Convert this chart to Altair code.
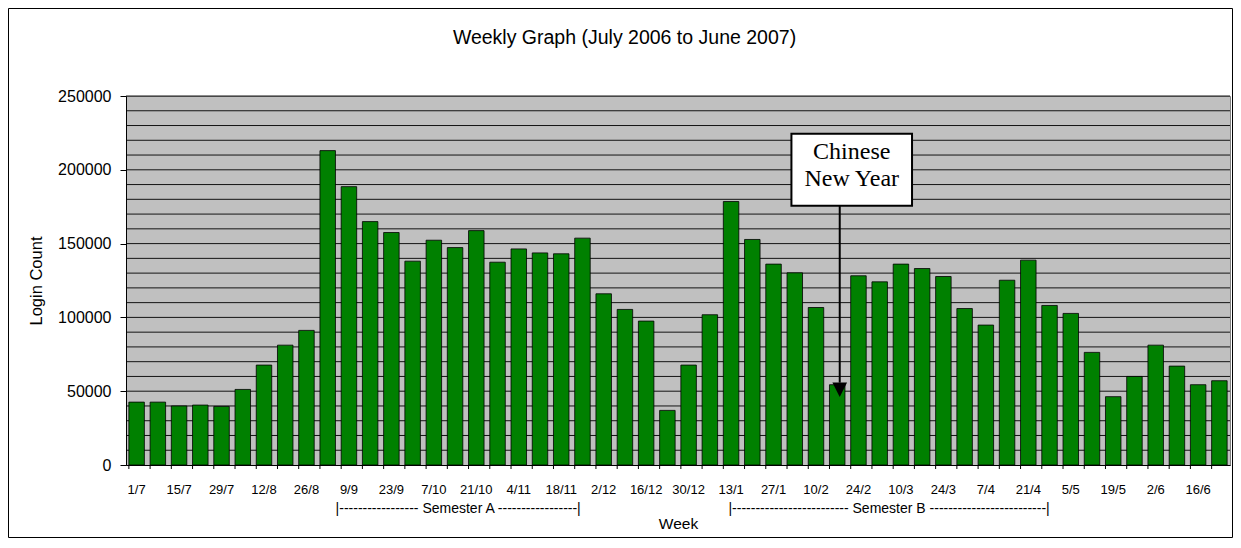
import json
import altair as alt
import pandas as pd

# ---------------- data ----------------
weeks = ["1/7", "8/7", "15/7", "22/7", "29/7", "5/8", "12/8", "19/8", "26/8", "2/9",
         "9/9", "16/9", "23/9", "30/9", "7/10", "14/10", "21/10", "28/10", "4/11", "11/11",
         "18/11", "25/11", "2/12", "9/12", "16/12", "23/12", "30/12", "6/1", "13/1", "20/1",
         "27/1", "3/2", "10/2", "17/2", "24/2", "3/3", "10/3", "17/3", "24/3", "31/3",
         "7/4", "14/4", "21/4", "28/4", "5/5", "12/5", "19/5", "26/5", "2/6", "9/6",
         "16/6", "23/6"]
logins = [42600, 42600, 40000, 40600, 39700, 51200, 67700, 81200, 91200, 213000,
          188600, 164900, 157500, 138100, 152300, 147300, 158800, 137400, 146400, 143700,
          143100, 153700, 116000, 105400, 97500, 37000, 67700, 101800, 178500, 152800,
          136100, 130200, 106700, 54400, 128200, 124100, 136100, 133100, 127700, 106000,
          94800, 125200, 138800, 108100, 102700, 76300, 46300, 60000, 81200, 67000,
          54400, 57100]
tick_labels = ["1/7", "15/7", "29/7", "12/8", "26/8", "9/9", "23/9", "7/10", "21/10",
               "4/11", "18/11", "2/12", "16/12", "30/12", "13/1", "27/1", "10/2", "24/2",
               "10/3", "24/3", "7/4", "21/4", "5/5", "19/5", "2/6", "16/6"]
y_labels = [0, 50000, 100000, 150000, 200000, 250000]
grid_values = [10000, 20000, 30000, 40000, 50000, 60000, 70000, 80000, 90000, 100000,
               110000, 120000, 130000, 140000, 150000, 160000, 170000, 180000, 190000,
               200000, 210000, 220000, 230000, 240000, 250000]

chart_title = ["Weekly Graph (July 2006 to June 2007)"]

# annotation (Chinese New Year)
cny_week = ["17/2"]
cny_text = ["Chinese\nNew Year"]
cny_box_center = [200000]
cny_text_first_line = [212200]
cny_line_top = [175500]
cny_line_bottom = [55800]
cny_head = [51000]

# semester labels
semester_anchor = ["14/10", "3/3"]
semester_text = ["|" + "-" * 17 + " Semester A " + "-" * 17 + "|",
                 "|" + "-" * 25 + " Semester B " + "-" * 25 + "|"]

W, H = 1104, 369
FONT = "Liberation Sans"

df = pd.DataFrame({"week": weeks, "logins": logins})
grid_df = pd.DataFrame({"g": grid_values})
cny_df = pd.DataFrame({"week": cny_week, "text": cny_text, "box": cny_box_center,
                       "tc": cny_text_first_line, "lt": cny_line_top,
                       "lb": cny_line_bottom, "head": cny_head})
semA = pd.DataFrame({"week": [semester_anchor[0]], "text": [semester_text[0]]})
semB = pd.DataFrame({"week": [semester_anchor[1]], "text": [semester_text[1]]})
title_df = pd.DataFrame({"t": chart_title})

xscale = alt.Scale(domain=weeks, paddingInner=0.27, paddingOuter=0.135)
yscale = alt.Scale(domain=[0, 250000], nice=False)

label_expr = ("indexof(" + json.dumps(tick_labels).replace('"', "'") +
              ", datum.label) >= 0 ? datum.label : ''")

x_axis = alt.Axis(title="Week", labelExpr=label_expr, labelAngle=0,
                  labelOverlap=False, ticks=False, labelPadding=18,
                  labelFont=FONT, labelFontSize=13, labelColor="black",
                  domainColor="black", titleFont=FONT, titleFontSize=15.5,
                  titleFontWeight="normal", titleColor="black",
                  titleY=63.5, titleBaseline="alphabetic")
y_axis = alt.Axis(title="Login Count", values=y_labels, grid=False, format="d",
                  tickColor="black", tickSize=6, labelPadding=9,
                  labelFont=FONT, labelFontSize=16, labelColor="black",
                  domainColor="black", titleFont=FONT, titleFontSize=16.5,
                  titleFontWeight="normal", titleColor="black",
                  titleX=-85, titleBaseline="alphabetic")


def X(field="week:N", **kw):
    return alt.X(field, scale=xscale, sort=weeks, axis=x_axis, **kw)


def Y(field):
    return alt.Y(field, scale=yscale, axis=y_axis)


grid = alt.Chart(grid_df).mark_rule(color="black", strokeWidth=1, opacity=0.9).encode(
    y=Y("g:Q")
)

bars = alt.Chart(df).mark_bar(color="#008000", stroke="black", strokeWidth=1,
                              strokeOpacity=0.8).encode(
    x=X(),
    y=Y("logins:Q"),
)

xticks = alt.Chart(df).mark_rule(color="black", strokeWidth=1).encode(
    x=X(bandPosition=0),
    y=alt.value(H),
    y2=alt.value(H + 4),
)

box = alt.Chart(cny_df).mark_point(
    shape="M-1,-0.597L1,-0.597L1,0.597L-1,0.597Z", size=14544, filled=True,
    fill="white", stroke="black", strokeWidth=2, opacity=1, xOffset=14.5
).encode(
    x=X(),
    y=Y("box:Q"),
)

box_text = alt.Chart(cny_df).mark_text(
    font="Liberation Serif", fontSize=24, lineHeight=27, lineBreak="\n",
    baseline="middle", align="center", color="black", xOffset=14.5
).encode(
    x=X(),
    y=Y("tc:Q"),
    text="text:N",
)

arrow_line = alt.Chart(cny_df).mark_rule(color="black", strokeWidth=2, xOffset=2.5).encode(
    x=X(),
    y=Y("lt:Q"),
    y2="lb:Q",
)

arrow_head = alt.Chart(cny_df).mark_point(
    shape="M-1,-1L1,-1L0,1Z", size=215, filled=True, color="black", opacity=1,
    xOffset=2.5
).encode(
    x=X(),
    y=Y("head:Q"),
)

semA_text = alt.Chart(semA).mark_text(
    font=FONT, fontSize=14, baseline="middle", align="center", color="black",
    xOffset=3.1
).encode(
    x=X(),
    y=alt.value(H + 44),
    text="text:N",
)

semB_text = alt.Chart(semB).mark_text(
    font=FONT, fontSize=14, baseline="middle", align="center", color="black",
    xOffset=9.4
).encode(
    x=X(),
    y=alt.value(H + 44),
    text="text:N",
)

title_text = alt.Chart(title_df).mark_text(
    font=FONT, fontSize=19.5, baseline="alphabetic", align="center", color="black"
).encode(
    x=alt.value(498.5),
    y=alt.value(-52),
    text="t:N",
)

frame = alt.Chart(title_df).mark_rect(fill="transparent", stroke="black", strokeWidth=1).encode(
    x=alt.value(-117.5), x2=alt.value(W + 2.5),
    y=alt.value(-87.5), y2=alt.value(H + 72.5),
)

chart = alt.layer(
    grid, bars, xticks, arrow_line, arrow_head, box, box_text, semA_text, semB_text,
    title_text, frame
).properties(
    width=W, height=H,
    autosize=alt.AutoSizeParams(type="none"),
    padding={"left": 118, "top": 88, "right": 3, "bottom": 73},
).configure(
    background="white",
    view=alt.ViewConfig(stroke="#808080", fill="#C0C0C0"),
)

chart.save("out.html", embed_options={"renderer": "svg", "actions": False})
